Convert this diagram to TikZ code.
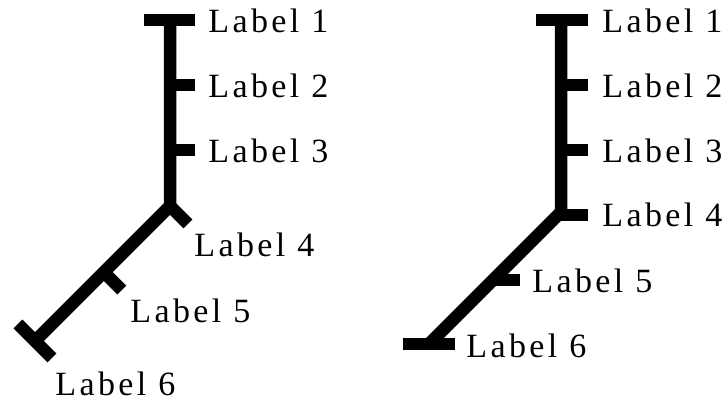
\documentclass[tikz,border=0pt]{standalone}
\usepackage{fontspec}
\newfontfamily\lblfont[LetterSpace=10]{Liberation Serif}
\usetikzlibrary{calc, positioning}

\begin{document}
\begin{tikzpicture}[x=0.5pt, y=-0.5pt,
  bar/.style={line width=6.25pt},
  lbl/.style={anchor=base west, inner sep=0pt, font=\lblfont\fontsize{17}{18}\selectfont}]
\useasboundingbox (0,0) rectangle (725,401);
% árbol izquierdo
\coordinate (lt) at (170,20);
\coordinate (lj) at (170,206);
\coordinate (le) at (35,341);
\coordinate (l5) at ($(lj)!0.49!(le)$);
\draw[bar] (lt) -- (lj) -- (le);
\draw[bar] ($(lt)+(-26,0)$) -- ($(lt)+(25,0)$); % marca superior
\foreach \y in {85,150}
  \draw[bar] (170,\y) -- ++(25,0);
\draw[bar] (lj) -- ++(18,18);
\draw[bar] (l5) -- ++(18,18);
\draw[bar] ($(le)+(-17,-17)$) -- ($(le)+(17,17)$); % marca final
\node[lbl] (la1) at (208,33) {Label 1};
\node[lbl] (la2) at (208,98) {Label 2};
\node[lbl] (la3) at (208,163) {Label 3};
\node[lbl] (la4) at (194,257) {Label 4};
\node[lbl] (la5) at (130,323) {Label 5};
\node[lbl] (la6) at (55,396) {Label 6};
% árbol derecho
\coordinate (rt) at (561,20);
\coordinate (rj) at (561,212);
\coordinate (re) at (429,344);
\coordinate (r5) at ($(rj)!0.515!(re)$);
\draw[bar] (rt) -- (rj) -- (re);
\draw[bar] ($(rt)+(-25,0)$) -- ($(rt)+(27,0)$); % marca superior
\foreach \y in {85,150,215}
  \draw[bar] (561,\y) -- ++(27,0);
\draw[bar] (r5) -- ++(27,0);
\draw[bar] ($(re)+(-26,0)$) -- ($(re)+(26,0)$); % marca final
\node[lbl] (ra1) at (602,33) {Label 1};
\node[lbl] (ra2) at (602,98) {Label 2};
\node[lbl] (ra3) at (602,163) {Label 3};
\node[lbl] (ra4) at (602,227) {Label 4};
\node[lbl] (ra5) at (532,293) {Label 5};
\node[lbl] (ra6) at (466,358) {Label 6};
\end{tikzpicture}
\end{document}
